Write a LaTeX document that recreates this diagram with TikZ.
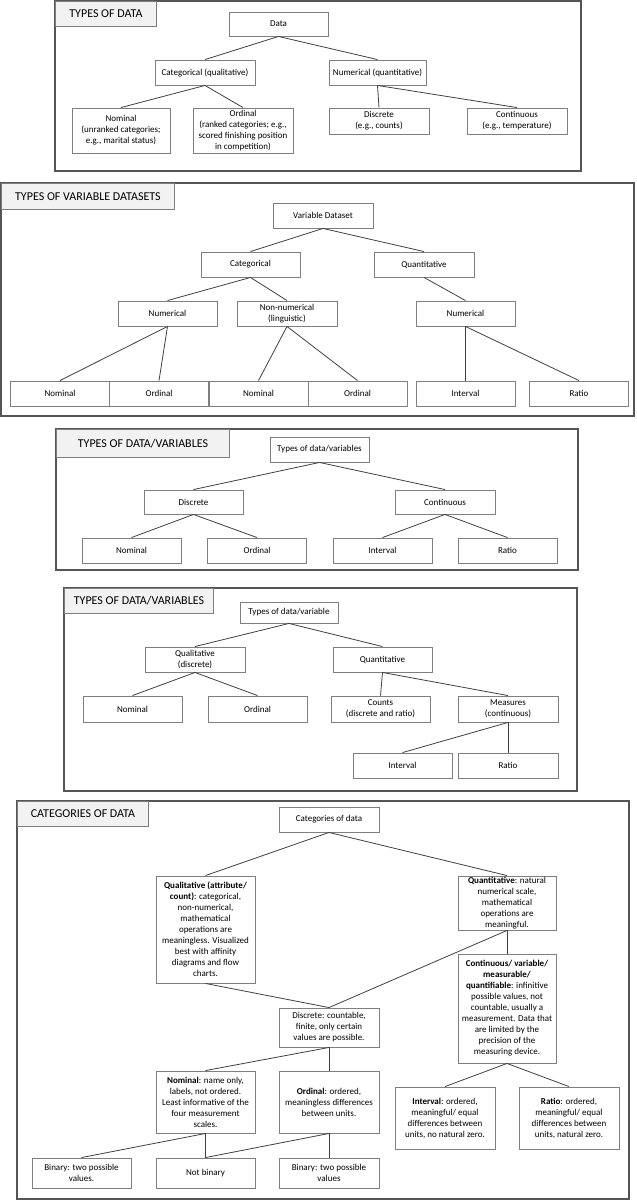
\documentclass[tikz,border=0pt]{standalone}
\usepackage{fontspec}
\setmainfont{Carlito}
\usepackage{tikz}
\usetikzlibrary{arrows,calc,shapes}
\tikzset{>=latex}
\definecolor{boxline}{HTML}{7F7F7F}
\definecolor{frameline}{HTML}{555555}
\definecolor{linkline}{HTML}{404040}
\definecolor{headfill}{HTML}{F2F2F2}
\tikzstyle{item}=[rectangle,draw=boxline,fill=white,line width=0.9pt,inner sep=0pt,align=center,minimum width=99pt,minimum height=25pt,font=\fontsize{9}{11}\selectfont]
\tikzstyle{heading}=[rectangle,draw=boxline,fill=headfill,line width=0.9pt,inner sep=0pt,anchor=north west,font=\fontsize{12}{14}\selectfont]
\tikzstyle{frame}=[draw=frameline,line width=1.1pt]
\tikzstyle{link}=[draw=linkline,line width=0.8pt]

\begin{document}
\begin{tikzpicture}[x=1pt,y=-1pt]
\useasboundingbox (0,0) rectangle (637,1200);

% types of data
\draw[frame] (55,1) rectangle (581,171);
\node[heading,minimum width=101pt,minimum height=25pt] (head1) at (55,1) {TYPES OF DATA};
\node[item,minimum height=24pt] (data) at (278.5,24) {Data};
\node[item,minimum width=100pt] (dcat) at (205,72.5) {Categorical (qualitative)};
\node[item,minimum width=97pt] (dnum) at (377.5,72.5) {Numerical (quantitative)};
\node[item,minimum width=98pt,minimum height=45pt] (dnom) at (121,130.5) {Nominal\\(unranked categories;\\e.g., marital status)};
\node[item,minimum width=100pt,minimum height=45pt] (dord) at (243,130.5) {Ordinal\\(ranked categories; e.g.,\\scored finishing position\\in competition)};
\node[item,minimum width=100pt,minimum height=26pt] (ddis) at (379,121) {Discrete\\(e.g., counts)};
\node[item,minimum width=100pt,minimum height=26pt] (dcon) at (517,121) {Continuous\\(e.g., temperature)};

\foreach \a/\b in {data/dcat,data/dnum,dcat/dnom,dcat/dord,dnum/ddis,dnum/dcon} {
	\draw[link] (\a.south) -- (\b.north);
};

% types of variable datasets
\draw[frame] (1,183) rectangle (634,416);
\node[heading,minimum width=173pt,minimum height=26pt] (head2) at (1,183) {TYPES OF VARIABLE DATASETS};
\node[item,minimum width=100pt] (vset) at (323,215.5) {Variable Dataset};
\node[item] (vcat) at (250.5,264.5) {Categorical};
\node[item,minimum width=100pt] (vqua) at (424,264.5) {Quantitative};
\node[item] (vnuma) at (167.5,313.5) {Numerical};
\node[item,minimum width=100pt] (vnon) at (287,313.5) {Non-numerical\\(linguistic)};
\node[item] (vnumb) at (465.5,313.5) {Numerical};

\foreach \name/\xc/\txt in {vnoma/60/Nominal,vorda/159/Ordinal,vnomb/258.5/Nominal,vordb/357.5/Ordinal,vint/465.5/Interval,vrat/579/Ratio} {
	\node[item] (\name) at (\xc,393.5) {\txt};
};

\foreach \a/\b in {vset/vcat,vset/vqua,vcat/vnuma,vcat/vnon,vqua/vnumb,vnuma/vnoma,vnuma/vorda,vnon/vnomb,vnon/vordb,vnumb/vint,vnumb/vrat} {
	\draw[link] (\a.south) -- (\b.north);
};

% types of data/variables
\draw[frame] (56,429) rectangle (578,570);
\node[heading,minimum width=173pt,minimum height=28pt] (head3) at (56,429) {TYPES OF DATA/VARIABLES};
\node[item] (tdv) at (319.5,449.5) {Types of data/variables};
\node[item,minimum height=24pt] (tdis) at (193.5,502) {Discrete};
\node[item,minimum width=100pt,minimum height=24pt] (tcon) at (445,502) {Continuous};

\foreach \name/\xc/\txt in {tnom/131.5/Nominal,tord/257/Ordinal,tint/382.5/Interval,trat/507.5/Ratio} {
	\node[item] (\name) at (\xc,550.5) {\txt};
};

\foreach \a/\b in {tdv/tdis,tdv/tcon,tdis/tnom,tdis/tord,tcon/tint,tcon/trat} {
	\draw[link] (\a.south) -- (\b.north);
};

% types of data/variable
\draw[frame] (64,588) rectangle (577,791);
\node[heading,minimum width=149pt,minimum height=25pt] (head4) at (64,588) {TYPES OF DATA/VARIABLES};
\node[item,minimum width=98pt,minimum height=21pt] (udv) at (289,612.5) {Types of data/variable};
\node[item,minimum width=100pt] (uqal) at (195,659.5) {Qualitative\\(discrete)};
\node[item] (uqua) at (382.5,659.5) {Quantitative};
\node[item,minimum height=26pt] (unom) at (132.5,709) {Nominal};
\node[item,minimum height=26pt] (uord) at (257.5,709) {Ordinal};
\node[item,minimum height=26pt] (ucnt) at (380.5,709) {Counts\\(discrete and ratio)};
\node[item,minimum width=100pt,minimum height=26pt] (umea) at (508,709) {Measures\\(continuous)};
\node[item] (uint) at (402.5,765.5) {Interval};
\node[item,minimum width=100pt] (urat) at (508,765.5) {Ratio};

\foreach \a/\b in {udv/uqal,udv/uqua,uqal/unom,uqal/uord,uqua/ucnt,uqua/umea,umea/uint,umea/urat} {
	\draw[link] (\a.south) -- (\b.north);
};

% categories of data
\draw[frame] (17,801) rectangle (629,1199);
\node[heading,minimum width=131pt,minimum height=25pt] (head5) at (17,801) {CATEGORIES OF DATA};
\node[item,minimum width=100pt] (cdat) at (329,819.5) {Categories of data};
\node[item,minimum height=107pt] (cqal) at (205.5,929.5) {\textbf{Qualitative (attribute/}\\\textbf{count)}: categorical,\\non-numerical,\\mathematical\\operations are\\meaningless. Visualized\\best with affinity\\diagrams and flow\\charts.};
\node[item,minimum width=98pt,minimum height=54pt] (cqua) at (507,903) {\textbf{Quantitative}: natural\\numerical scale,\\mathematical\\operations are\\meaningful.};
\node[item,minimum width=98pt,minimum height=109pt] (ccon) at (507,1008.5) {\textbf{Continuous/ variable/}\\\textbf{measurable/}\\\textbf{quantifiable}: infinitive\\possible values, not\\countable, usually a\\measurement. Data that\\are limited by the\\precision of the\\measuring device.};
\node[item,minimum width=100pt,minimum height=39pt] (cdis) at (329,1027.5) {Discrete: countable,\\finite, only certain\\values are possible.};
\node[item,minimum height=62pt] (cnom) at (205.5,1102) {\textbf{Nominal}: name only,\\labels, not ordered.\\Least informative of the\\four measurement\\scales.};
\node[item,minimum width=100pt,minimum height=62pt] (cord) at (329,1102) {\textbf{Ordinal}: ordered,\\meaningless differences\\between units.};
\node[item,minimum width=100pt,minimum height=62pt] (cint) at (445,1118) {\textbf{Interval}: ordered,\\meaningful/ equal\\differences between\\units, no natural zero.};
\node[item,minimum width=100pt,minimum height=62pt] (crat) at (569,1118) {\textbf{Ratio}: ordered,\\meaningful/ equal\\differences between\\units, natural zero.};
\node[item,minimum height=30pt] (cbina) at (81.5,1173) {Binary: two possible\\values.};
\node[item,minimum height=30pt] (cnot) at (205.5,1173) {Not binary};
\node[item,minimum width=100pt,minimum height=30pt] (cbinb) at (329,1173) {Binary: two possible\\values};

\foreach \a/\b in {cdat/cqal,cdat/cqua,cqal/cdis,cqua/cdis,cqua/ccon,cdis/cnom,cdis/cord,cnom/cbina,cnom/cnot,cord/cnot,cord/cbinb,ccon/cint,ccon/crat} {
	\draw[link] (\a.south) -- (\b.north);
};

\end{tikzpicture}
\end{document}
